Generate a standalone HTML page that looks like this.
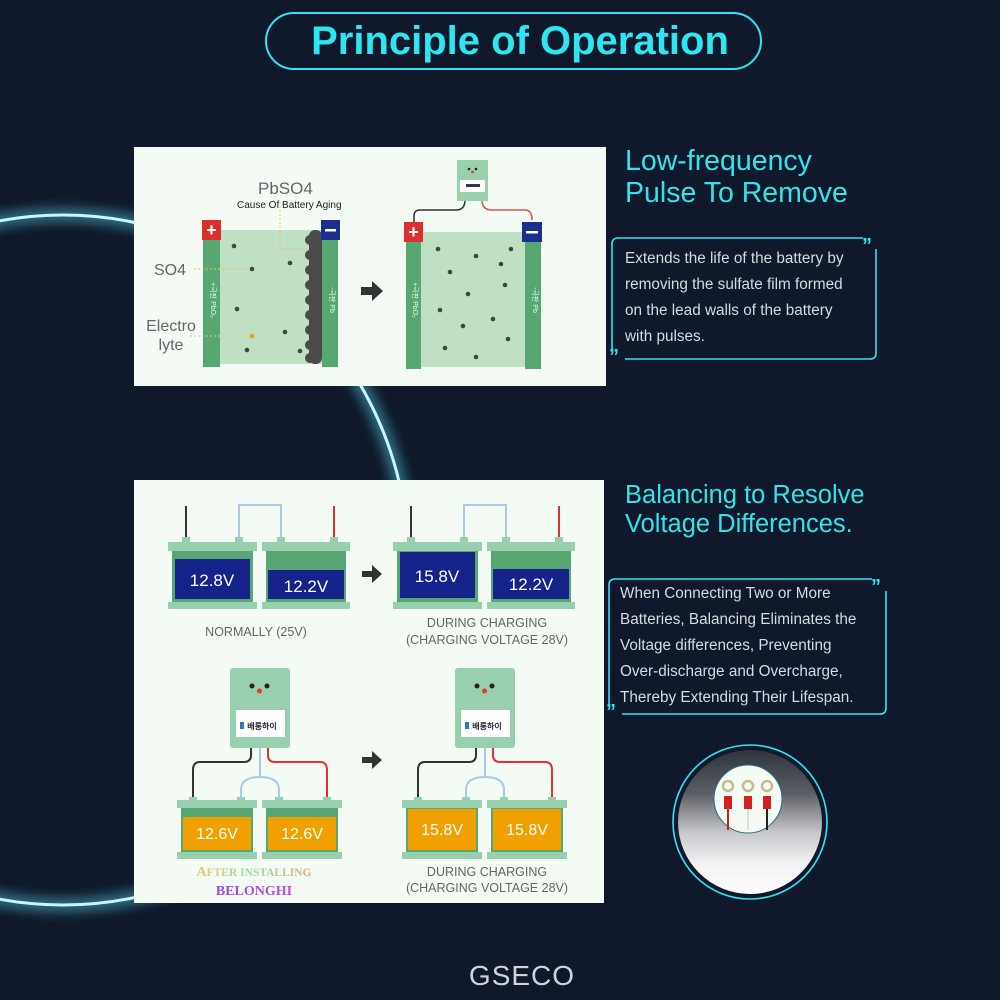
<!DOCTYPE html>
<html><head><meta charset="utf-8"><style>
html,body{margin:0;padding:0;background:#0f192b;}
svg{display:block}
text{font-family:"Liberation Sans","DejaVu Sans",sans-serif}
text.serif{font-family:"Liberation Serif","DejaVu Serif",serif}
</style></head><body>
<svg width="1000" height="1000" viewBox="0 0 1000 1000" xmlns="http://www.w3.org/2000/svg">
<defs>
<filter id="glow" x="-50%" y="-50%" width="200%" height="200%"><feGaussianBlur stdDeviation="6"/></filter>
<linearGradient id="g1" x1="0" x2="1"><stop offset="0" stop-color="#e8c86a"/><stop offset="0.5" stop-color="#9fd8a8"/><stop offset="1" stop-color="#e0b070"/></linearGradient>
<linearGradient id="g2" x1="0" x2="1"><stop offset="0" stop-color="#9a4ae0"/><stop offset="1" stop-color="#c050d0"/></linearGradient>
<linearGradient id="ph" x1="0" y1="0" x2="0" y2="1"><stop offset="0" stop-color="#2a2f38"/><stop offset="0.3" stop-color="#5a5d64"/><stop offset="0.55" stop-color="#c8c9cc"/><stop offset="0.75" stop-color="#f4f4f6"/><stop offset="1" stop-color="#ffffff"/></linearGradient>
<clipPath id="cc"><circle cx="750" cy="822" r="72"/></clipPath>
</defs>
<rect width="1000" height="1000" fill="#0f192b"/>
<circle cx="63" cy="560" r="345" fill="none" stroke="#5fe6ff" stroke-width="12" opacity="0.5" filter="url(#glow)"/>
<circle cx="63" cy="560" r="345" fill="none" stroke="#c8f6ff" stroke-width="3"/>

<rect x="266" y="13" width="495" height="56" rx="28" fill="#0f192b" stroke="#2ee6f0" stroke-width="2"/>
<text x="520" y="54" text-anchor="middle" font-size="40" font-weight="bold" fill="#2ee6f0">Principle of Operation</text>

<rect x="134" y="147" width="472" height="239" fill="#f3fbf4"/>
<rect x="220" y="230" width="102" height="134" fill="#bfe0c3"/>
<rect x="203" y="240" width="17" height="127" fill="#58a672"/>
<rect x="322" y="240" width="16" height="127" fill="#58a672"/>
<rect x="309" y="230" width="13" height="134" rx="6" fill="#4a4a4a"/>
<g fill="#4a4a4a"><circle cx="310" cy="240" r="5"/><circle cx="310" cy="255" r="5"/><circle cx="310" cy="270" r="5"/><circle cx="310" cy="285" r="5"/><circle cx="310" cy="300" r="5"/><circle cx="310" cy="315" r="5"/><circle cx="310" cy="330" r="5"/><circle cx="310" cy="345" r="5"/><circle cx="310" cy="358" r="5"/></g>
<rect x="202" y="220" width="19" height="20" fill="#d9302f"/><text x="211.5" y="236" text-anchor="middle" font-size="18" font-weight="bold" fill="#fff">+</text>
<rect x="321" y="220" width="19" height="20" fill="#1d2e8f"/><rect x="325" y="229" width="11" height="2.5" fill="#fff"/>
<g fill="#444"><circle cx="234" cy="246" r="2.3"/><circle cx="252" cy="269" r="2.3"/><circle cx="290" cy="263" r="2.3"/><circle cx="237" cy="309" r="2.3"/><circle cx="285" cy="332" r="2.3"/><circle cx="247" cy="350" r="2.3"/><circle cx="300" cy="351" r="2.3"/></g>
<circle cx="252" cy="336" r="2.3" fill="#f0a020"/>
<text x="211" y="300" font-size="7" fill="#dfe" transform="rotate(90 211 300)" text-anchor="middle">+극판 PbO₂</text>
<text x="330" y="300" font-size="7" fill="#dfe" transform="rotate(90 330 300)" text-anchor="middle">-극판 Pb</text>
<g stroke="#f0c070" stroke-width="1" stroke-dasharray="2 2" fill="none"><path d="M194 269 H250"/><path d="M190 336 H250"/><path d="M280 206 V249 H309"/></g>
<text x="258" y="194" font-size="17" fill="#666">PbSO4</text>
<text x="237" y="208" font-size="10" fill="#222">Cause Of Battery Aging</text>
<text x="154" y="275" font-size="16" fill="#666">SO4</text>
<text x="171" y="331" font-size="16" fill="#666" text-anchor="middle">Electro</text>
<text x="171" y="350" font-size="16" fill="#666" text-anchor="middle">lyte</text>
<path d="M361 287 H372 V281 L383 291 L372 301 V295 H361 Z" fill="#333"/>
<rect x="421" y="232" width="104" height="135" fill="#bfe0c3"/>
<rect x="406" y="242" width="15" height="127" fill="#58a672"/>
<rect x="525" y="242" width="16" height="127" fill="#58a672"/>
<rect x="404" y="222" width="19" height="20" fill="#d9302f"/><text x="413.5" y="238" text-anchor="middle" font-size="18" font-weight="bold" fill="#fff">+</text>
<rect x="522" y="222" width="20" height="20" fill="#1d2e8f"/><rect x="526" y="231" width="12" height="2.5" fill="#fff"/>
<g fill="#444"><circle cx="438" cy="249" r="2.3"/><circle cx="476" cy="256" r="2.3"/><circle cx="511" cy="249" r="2.3"/><circle cx="450" cy="272" r="2.3"/><circle cx="501" cy="264" r="2.3"/><circle cx="505" cy="285" r="2.3"/><circle cx="468" cy="294" r="2.3"/><circle cx="440" cy="310" r="2.3"/><circle cx="493" cy="319" r="2.3"/><circle cx="463" cy="326" r="2.3"/><circle cx="508" cy="339" r="2.3"/><circle cx="445" cy="348" r="2.3"/><circle cx="476" cy="357" r="2.3"/></g>
<text x="413" y="300" font-size="7" fill="#dfe" transform="rotate(90 413 300)" text-anchor="middle">+극판 PbO₂</text>
<text x="533" y="300" font-size="7" fill="#dfe" transform="rotate(90 533 300)" text-anchor="middle">-극판 Pb</text>
<path d="M414 222 V216 Q414 210 420 210 H456 Q465 210 465 200" fill="none" stroke="#333" stroke-width="1.5"/>
<path d="M482 200 Q482 210 492 210 H525 Q532 210 532 220" fill="none" stroke="#e05050" stroke-width="1.5"/>
<rect x="457" y="160" width="31" height="41" fill="#9bd0ad"/>
<circle cx="469" cy="169" r="1.3" fill="#222"/><circle cx="476" cy="169" r="1.3" fill="#222"/><circle cx="472.5" cy="172" r="1.3" fill="#d33"/>
<rect x="460" y="180" width="25" height="12" fill="#fff"/><rect x="466" y="184" width="14" height="3" fill="#335"/>

<text x="625" y="170" font-size="28.5" fill="#35e2ea">Low-frequency</text>
<text x="625" y="202" font-size="28.5" fill="#35e2ea">Pulse To Remove</text>
<path d="M863 238 H618 Q612 238 612 244 V350 M625 359 H870 Q876 359 876 353 V249" fill="none" stroke="#2ee6f0" stroke-width="1.6"/>
<text x="862" y="252" font-size="20" font-weight="bold" fill="#2ee6f0">”</text>
<text x="609" y="363" font-size="20" font-weight="bold" fill="#2ee6f0">”</text>
<g font-size="15.3" fill="#d6dbe2">
<text x="625" y="263">Extends the life of the battery by</text>
<text x="625" y="289">removing the sulfate film formed</text>
<text x="625" y="315">on the lead walls of the battery</text>
<text x="625" y="341">with pulses.</text>
</g>

<rect x="134" y="480" width="470" height="423" fill="#f3fbf4"/>
<g id="s1">
<path d="M186 506 V540" stroke="#333" stroke-width="2"/>
<path d="M239 540 V505 H281 V540" fill="none" stroke="#a8c8ec" stroke-width="2"/>
<path d="M334 506 V540" stroke="#e03030" stroke-width="2"/>
<rect x="182" y="537" width="8" height="6" fill="#98cfae"/><rect x="235" y="537" width="8" height="6" fill="#98cfae"/>
<rect x="277" y="537" width="8" height="6" fill="#98cfae"/><rect x="330" y="537" width="8" height="6" fill="#98cfae"/>
<rect x="168" y="542" width="89" height="9" fill="#98cfae"/><rect x="262" y="542" width="88" height="9" fill="#98cfae"/>
<rect x="172" y="551" width="81" height="51" fill="#58a672"/><rect x="266" y="551" width="80" height="51" fill="#58a672"/>
<rect x="168" y="602" width="89" height="7" fill="#98cfae"/><rect x="262" y="602" width="88" height="7" fill="#98cfae"/>
</g>
<rect x="175" y="559" width="75" height="40" fill="#14228a"/>
<rect x="268" y="570" width="76" height="29" fill="#14228a"/>
<text x="212" y="586" text-anchor="middle" font-size="17" fill="#fff">12.8V</text>
<text x="306" y="592" text-anchor="middle" font-size="17" fill="#fff">12.2V</text>
<use href="#s1" x="225"/>
<rect x="400" y="552" width="75" height="46" fill="#14228a"/>
<rect x="493" y="569" width="76" height="30" fill="#14228a"/>
<text x="437" y="582" text-anchor="middle" font-size="17" fill="#fff">15.8V</text>
<text x="531" y="590" text-anchor="middle" font-size="17" fill="#fff">12.2V</text>
<text x="256" y="636" text-anchor="middle" font-size="12.5" fill="#666">NORMALLY (25V)</text>
<text x="487" y="627" text-anchor="middle" font-size="12.5" fill="#666">DURING CHARGING</text>
<text x="487" y="644" text-anchor="middle" font-size="12.5" fill="#666">(CHARGING VOLTAGE 28V)</text>
<path d="M362 571 H372 V565 L382 574 L372 583 V577 H362 Z" fill="#333"/>
<path d="M362 757 H372 V751 L382 760 L372 769 V763 H362 Z" fill="#333"/>
<g id="s2">
<path d="M251 748 V755 Q251 762 244 762 H200 Q193 762 193 770 V800" fill="none" stroke="#333" stroke-width="2"/>
<path d="M268 748 V755 Q268 762 275 762 H320 Q327 762 327 770 V800" fill="none" stroke="#e03030" stroke-width="2"/>
<path d="M260 748 V776 M241 800 V790 Q241 777 260 777 Q279 777 279 790 V800" fill="none" stroke="#a8c8ec" stroke-width="2"/>
<rect x="230" y="668" width="60" height="80" rx="3" fill="#98cfae"/>
<circle cx="252" cy="686" r="2.5" fill="#222"/><circle cx="267" cy="686" r="2.5" fill="#222"/><circle cx="259.5" cy="691" r="2.5" fill="#e04020"/>
<rect x="236" y="710" width="49" height="27" fill="#fff"/>
<text x="262" y="729" text-anchor="middle" font-size="8" font-weight="bold" fill="#223">배롱하이</text>
<rect x="240" y="722" width="4" height="7" fill="#2a7ac0"/>
<rect x="189" y="797" width="8" height="5" fill="#98cfae"/><rect x="237" y="797" width="8" height="5" fill="#98cfae"/>
<rect x="275" y="797" width="8" height="5" fill="#98cfae"/><rect x="323" y="797" width="8" height="5" fill="#98cfae"/>
<rect x="177" y="800" width="80" height="8" fill="#98cfae"/><rect x="262" y="800" width="80" height="8" fill="#98cfae"/>
<rect x="181" y="808" width="72" height="44" fill="#58a672"/><rect x="266" y="808" width="72" height="44" fill="#58a672"/>
<rect x="177" y="852" width="80" height="7" fill="#98cfae"/><rect x="262" y="852" width="80" height="7" fill="#98cfae"/>
</g>
<rect x="183" y="817" width="68" height="33" fill="#f0a000"/>
<rect x="268" y="817" width="68" height="33" fill="#f0a000"/>
<text x="217" y="839" text-anchor="middle" font-size="16" fill="#fff">12.6V</text>
<text x="302" y="839" text-anchor="middle" font-size="16" fill="#fff">12.6V</text>
<use href="#s2" x="225"/>
<rect x="408" y="809" width="68" height="41" fill="#f0a000"/>
<rect x="493" y="809" width="68" height="41" fill="#f0a000"/>
<text x="442" y="835" text-anchor="middle" font-size="16" fill="#fff">15.8V</text>
<text x="527" y="835" text-anchor="middle" font-size="16" fill="#fff">15.8V</text>
<text class="serif" x="254" y="876" text-anchor="middle" font-size="14" font-weight="bold" fill="url(#g1)">A<tspan font-size="11.5">FTER INSTALLING</tspan></text>
<text class="serif" x="254" y="895" text-anchor="middle" font-size="14" font-weight="bold" fill="url(#g2)">BELONGHI</text>
<text x="487" y="876" text-anchor="middle" font-size="12.5" fill="#666">DURING CHARGING</text>
<text x="487" y="892" text-anchor="middle" font-size="12.5" fill="#666">(CHARGING VOLTAGE 28V)</text>

<text x="625" y="503" font-size="25.5" fill="#35e2ea">Balancing to Resolve</text>
<text x="625" y="532" font-size="25.5" fill="#35e2ea">Voltage Differences.</text>
<path d="M872 579 H615 Q609 579 609 585 V705 M622 714 H880 Q886 714 886 708 V591" fill="none" stroke="#2ee6f0" stroke-width="1.6"/>
<text x="871" y="593" font-size="20" font-weight="bold" fill="#2ee6f0">”</text>
<text x="606" y="718" font-size="20" font-weight="bold" fill="#2ee6f0">”</text>
<g font-size="15.3" fill="#d6dbe2">
<text x="620" y="598">When Connecting Two or More</text>
<text x="620" y="624">Batteries, Balancing Eliminates the</text>
<text x="620" y="650">Voltage differences, Preventing</text>
<text x="620" y="676">Over-discharge and Overcharge,</text>
<text x="620" y="702">Thereby Extending Their Lifespan.</text>
</g>

<circle cx="750" cy="822" r="77" fill="#0f192b" stroke="#2ee6f0" stroke-width="1.6"/>
<g clip-path="url(#cc)">
<rect x="670" y="745" width="160" height="160" fill="url(#ph)"/>
<circle cx="748" cy="799" r="34" fill="#f4fbf4" stroke="#2a6a80" stroke-width="1"/>
<g fill="none" stroke="#c8b890" stroke-width="2.5"><circle cx="728" cy="786" r="5"/><circle cx="748" cy="786" r="5"/><circle cx="767" cy="786" r="5"/></g>
<g fill="#d42020"><rect x="724" y="796" width="8" height="13"/><rect x="744" y="796" width="8" height="13"/><rect x="763" y="796" width="8" height="13"/></g>
<path d="M728 809 V830" stroke="#c02020" stroke-width="2"/><path d="M748 809 V830" stroke="#ddd" stroke-width="2"/><path d="M767 809 V830" stroke="#222" stroke-width="2"/>
</g>

<text x="522" y="985" text-anchor="middle" font-size="28" fill="#d0d4da" letter-spacing="1">GSECO</text>
</svg>
</body></html>
